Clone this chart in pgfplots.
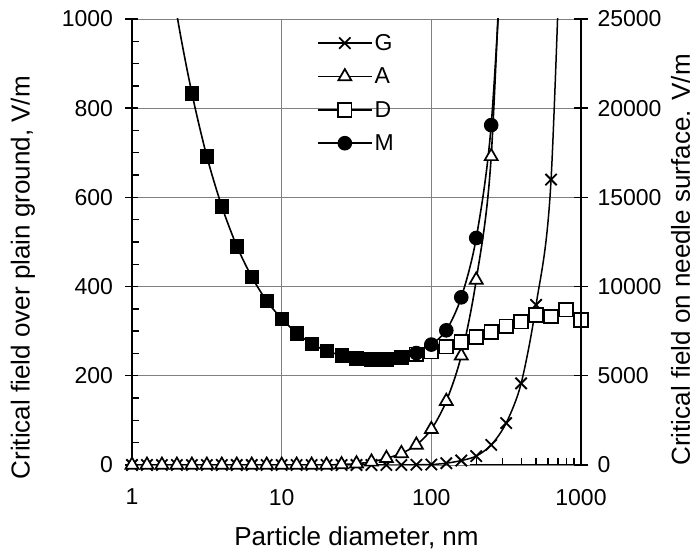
\documentclass[border=0pt]{standalone}
\usepackage{fontspec}
\setmainfont{Liberation Sans}
\usepackage{pgfplots}
\pgfplotsset{compat=1.18}
\newcommand{\fs}{\fontsize{23}{27}\selectfont}
\newcommand{\ft}{\fontsize{26}{30}\selectfont}
\begin{document}
\begin{tikzpicture}
\path[use as bounding box] (-132pt,-86pt) rectangle (564pt,465pt);
\begin{axis}[
  at={(0,0)}, anchor=south west,
  scale only axis, width=449pt, height=446pt,
  font=\fs,
  xmode=log, xmin=1, xmax=1000,
  ymin=0, ymax=1000,
  axis y line*=left, axis x line*=bottom,
  x axis line style={draw=none},
  y axis line style={line width=1.6pt},
  xtick={1,10,100,1000}, xticklabels={1,10,100,1000},
  minor xtick={},
  x tick style={draw=none},
  ytick={0,200,...,1000}, minor y tick num=3,
  y tick style={line width=1.4pt, black},
  tick align=center,
  major tick length=13pt, minor tick length=7pt,
  every minor tick/.append style={xshift=3.5pt},
  xmajorgrids, ymajorgrids,
  major grid style={gray, line width=0.9pt},
  /pgf/number format/assume math mode=true,
  yticklabel style={font=\fs, xshift=-9pt, /pgf/number format/1000 sep={}},
  xticklabel style={font=\fs, yshift=-14pt},
  xlabel={Particle diameter, nm},
  ylabel={Critical field over plain ground, V/m},
  xlabel style={font=\ft, at={(axis description cs:0.5,-0.164)}, anchor=center},
  ylabel style={font=\ft, at={(axis description cs:-0.243,0.42)}, anchor=center, rotate=0},
  legend style={at={(axis description cs:0.405,0.975)}, anchor=north west,
    draw=none, fill=none, font=\fs, row sep=12pt},
  legend cell align=left,
  legend image code/.code={\draw[black, line width=1.6pt] (0pt,0pt) -- (54pt,0pt); \draw[#1] plot coordinates {(27pt,0pt)};},
  clip=true,
]
% G
\addplot[black, line width=1.5pt, smooth, forget plot] coordinates {
(1,0)(1.2589,0)(1.5849,0)(1.9953,0)(2.5119,0)(3.1623,0)(3.9811,0)(5.0119,0)(6.3096,0)(7.9433,0)
(10,0)(12.589,0)(15.849,0)(19.953,0)(25.119,0)(31.623,0)(39.811,0)(50.119,0)(63.096,0)(79.433,0.5)
(100,1)(125.89,4)(158.49,10)(199.53,20)(251.19,45)(316.23,94)(398.11,183)(501.19,359)(630.96,640)(794.33,1560)};
\addplot[only marks, mark=x, mark size=8pt, mark options={line width=1.8pt, black}] coordinates {
(1,0)(1.2589,0)(1.5849,0)(1.9953,0)(2.5119,0)(3.1623,0)(3.9811,0)(5.0119,0)(6.3096,0)(7.9433,0)
(10,0)(12.589,0)(15.849,0)(19.953,0)(25.119,0)(31.623,0)(39.811,0)(50.119,0)(63.096,0)(79.433,0.5)
(100,1)(125.89,4)(158.49,10)(199.53,20)(251.19,45)(316.23,94)(398.11,183)(501.19,359)(630.96,640)};
\addlegendentry{G}
% A
\addplot[black, line width=1.6pt, smooth, forget plot] coordinates {
(1,0)(1.2589,0)(1.5849,0)(1.9953,0)(2.5119,0)(3.1623,0)(3.9811,0)(5.0119,0)(6.3096,0)(7.9433,0)
(10,0)(12.589,0)(15.849,0)(19.953,0)(25.119,1)(31.623,3)(39.811,7)(50.119,15)(63.096,26)(79.433,45)
(100,80)(125.89,143)(158.49,245)(199.53,415)(251.19,692)(316.23,1450)};
\addplot[only marks, mark=triangle*, mark size=7.5pt, mark options={line width=1.7pt, draw=black, fill=white}] coordinates {
(1,0)(1.2589,0)(1.5849,0)(1.9953,0)(2.5119,0)(3.1623,0)(3.9811,0)(5.0119,0)(6.3096,0)(7.9433,0)
(10,0)(12.589,0)(15.849,0)(19.953,0)(25.119,1)(31.623,3)(39.811,7)(50.119,15)(63.096,26)(79.433,45)
(100,80)(125.89,143)(158.49,245)(199.53,415)(251.19,692)};
\addlegendentry{A}
% D
\addplot[black, line width=1.6pt, smooth, forget plot] coordinates {
(63.096,242)(79.433,248)(100,254)(125.89,265)(158.49,276)(199.53,287)(251.19,298)(316.23,311)(398.11,321)(501.19,336)(630.96,333)(794.33,348)(1000,325)};
\addplot[only marks, mark=square*, mark size=6.8pt, mark options={line width=1.7pt, draw=black, fill=white}] coordinates {
(79.433,248)(100,254)(125.89,265)(158.49,276)(199.53,287)(251.19,298)(316.23,311)(398.11,321)(501.19,336)(630.96,333)(794.33,348)(1000,325)};
\addlegendentry{D}
% M
\addplot[black, line width=1.6pt, smooth, forget plot] coordinates {
(63.096,242)(79.433,251)(100,270)(125.89,302)(158.49,376)(199.53,509)(251.19,762)(316.23,1320)};
\addplot[only marks, mark=*, mark size=6.8pt, mark options={line width=1pt, draw=black, fill=black}] coordinates {
(79.433,251)(100,270)(125.89,302)(158.49,376)(199.53,509)(251.19,762)};
\addlegendentry{M}
% small-size common part (black squares)
\addplot[black, line width=1.6pt, smooth, forget plot] coordinates {
(1.5849,1240)(1.9953,1010)(2.5119,834)(3.1623,692)(3.9811,580)(5.0119,491)(6.3096,422)(7.9433,368)(10,328)(12.589,296)(15.849,272)(19.953,256)(25.119,246)(31.623,240)(39.811,237)(50.119,237)(63.096,242)};
\addplot[only marks, mark=square*, mark size=6.8pt, mark options={draw=black, fill=black}, forget plot] coordinates {
(2.5119,834)(3.1623,692)(3.9811,580)(5.0119,491)(6.3096,422)(7.9433,368)(10,328)(12.589,296)(15.849,272)(19.953,256)(25.119,246)(31.623,240)(39.811,237)(50.119,237)(63.096,242)};
\end{axis}
\begin{axis}[
  at={(0,0)}, anchor=south west,
  scale only axis, width=449pt, height=446pt,
  font=\fs,
  xmode=log, xmin=1, xmax=1000,
  ymin=0, ymax=25000,
  axis y line*=right, axis x line=none,
  y axis line style={line width=1.6pt},
  ytick={0,5000,...,25000},
  y tick style={line width=1.4pt, black},
  tick align=center, major tick length=14pt,
  scaled y ticks=false,
  /pgf/number format/assume math mode=true,
  yticklabel style={font=\fs, xshift=6pt, /pgf/number format/1000 sep={}},
  ylabel={Critical field on needle surface. V/m},
  ylabel style={font=\ft, at={(axis description cs:1.222,0.46)}, anchor=center, rotate=0},
]
\addplot[draw=none, forget plot] coordinates {(1,0)};
\draw[black, line width=2.2pt] (axis cs:180,0) -- (axis cs:1000,0);
\foreach \v in {200,300,400,500,600,700,800,900} {
  \edef\tmp{\noexpand\draw[black, line width=1.4pt] (axis cs:\v,0) -- ++(0pt,7pt);}\tmp
}
\end{axis}
\end{tikzpicture}
\end{document}
